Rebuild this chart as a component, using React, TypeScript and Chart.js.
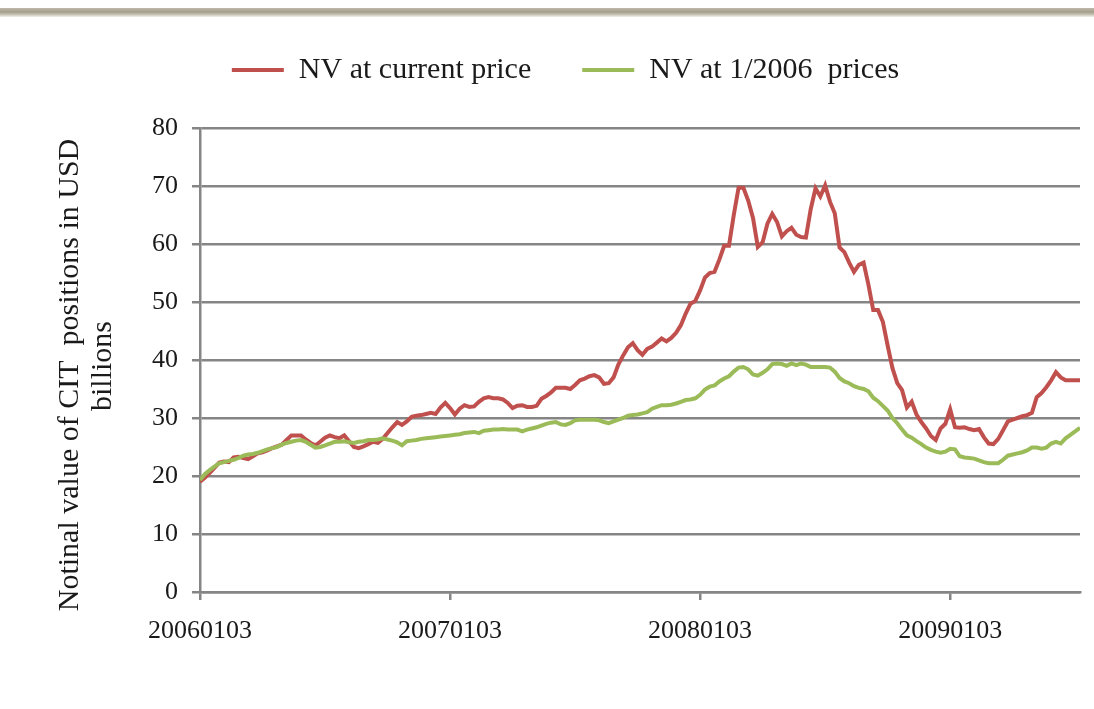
import React, { useEffect, useRef } from 'react';
import { Chart, registerables } from 'chart.js';

Chart.register(...registerables);

// ---- data ----
const seriesNames = ['NV at current price', 'NV at 1/2006  prices'];
const seriesColors = ['#c0504d', '#9bbb59'];
const xTickWeeks = [0, 52, 104, 156];
const xTickLabels = ['20060103', '20070103', '20080103', '20090103'];
const yAxisTitleLines = ['Notinal value of CIT  positions in USD', 'billions'];

// weekly observations, 2006-01-03 onwards
const nvCurrent = [
  19.0, 19.7, 20.5, 21.4, 22.3, 22.5, 22.4, 23.2, 23.3, 23.1,
  22.9, 23.4, 23.9, 24.1, 24.4, 24.8, 25.1, 25.4, 26.2, 27.0,
  27.0, 27.0, 26.3, 25.7, 25.3, 25.9, 26.6, 27.0, 26.7, 26.5,
  27.0, 26.0, 25.0, 24.8, 25.1, 25.5, 25.9, 25.7, 26.4, 27.4,
  28.4, 29.3, 28.8, 29.4, 30.2, 30.4, 30.5, 30.7, 30.9, 30.7,
  31.8, 32.6, 31.7, 30.6, 31.6, 32.2, 31.9, 32.0, 32.8, 33.4,
  33.6, 33.4, 33.4, 33.2, 32.6, 31.7, 32.1, 32.2, 31.9, 31.9,
  32.1, 33.3, 33.8, 34.4, 35.2, 35.2, 35.2, 35.0, 35.7, 36.5,
  36.8, 37.2, 37.4, 37.0, 35.9, 36.0, 37.0, 39.2, 40.8, 42.2,
  42.9, 41.7, 40.9, 41.9, 42.3, 43.0, 43.7, 43.2, 43.8, 44.7,
  46.0, 48.0, 49.7, 50.2, 52.0, 54.2, 55.0, 55.2, 57.3, 59.7,
  59.7, 65.0, 69.7, 69.7, 67.5, 64.5, 59.5, 60.3, 63.5, 65.2,
  63.8, 61.3, 62.2, 62.8, 61.6, 61.2, 61.1, 66.0, 69.6, 68.2,
  70.1, 67.3, 65.3, 59.4, 58.6, 56.8, 55.2, 56.4, 56.8, 53.0,
  48.6, 48.6, 46.6, 42.5, 38.6, 36.0, 34.8, 31.8, 32.8, 30.6,
  29.3, 28.2, 26.9, 26.2, 28.2, 29.0, 31.5, 28.4, 28.3, 28.4,
  28.1, 27.9, 28.1, 26.7, 25.6, 25.5, 26.4, 27.9, 29.4, 29.7,
  30.0, 30.3, 30.5, 30.9, 33.6, 34.3, 35.3, 36.5, 37.9, 37.0,
  36.5, 36.5, 36.5, 36.5,
];

const nv2006 = [
  19.3, 20.3, 21.0, 21.6, 22.2, 22.4, 22.6, 22.8, 23.1, 23.5,
  23.7, 23.8, 24.0, 24.3, 24.6, 24.8, 25.0, 25.4, 25.7, 25.9,
  26.1, 26.2, 25.9, 25.4, 24.9, 25.0, 25.3, 25.6, 25.9, 25.9,
  26.0, 25.8, 25.7, 25.9, 26.0, 26.2, 26.2, 26.3, 26.5, 26.3,
  26.1, 25.8, 25.3, 26.0, 26.1, 26.2, 26.4, 26.5, 26.6, 26.7,
  26.8, 26.9, 27.0, 27.1, 27.2, 27.4, 27.5, 27.6, 27.4, 27.8,
  27.9, 28.0, 28.0, 28.1, 28.0, 28.0, 28.0, 27.7, 28.0, 28.2,
  28.4, 28.7, 29.0, 29.2, 29.3, 28.9, 28.8, 29.1, 29.6, 29.7,
  29.7, 29.7, 29.7, 29.6, 29.3, 29.1, 29.4, 29.7, 30.0, 30.4,
  30.5, 30.6, 30.8, 31.0, 31.6, 31.9, 32.2, 32.2, 32.3, 32.5,
  32.8, 33.1, 33.2, 33.4, 34.0, 34.9, 35.4, 35.6, 36.3, 36.8,
  37.2, 38.0, 38.7, 38.8, 38.4, 37.5, 37.3, 37.8, 38.4, 39.3,
  39.4, 39.3, 39.0, 39.4, 39.1, 39.4, 39.2, 38.8, 38.8, 38.8,
  38.8, 38.7, 38.0, 36.9, 36.3, 36.0, 35.5, 35.2, 35.0, 34.6,
  33.5, 32.9, 32.1, 31.3, 30.0, 29.1, 28.0, 27.0, 26.6, 26.0,
  25.5, 24.9, 24.5, 24.2, 24.0, 24.2, 24.7, 24.6, 23.4, 23.2,
  23.1, 23.0, 22.7, 22.4, 22.2, 22.2, 22.2, 22.8, 23.5, 23.7,
  23.9, 24.1, 24.4, 24.9, 24.9, 24.7, 24.9, 25.6, 25.9, 25.6,
  26.5, 27.1, 27.7, 28.3,
];

const FONT = '"Liberation Serif", "Times New Roman", serif';
const TEXT = '#1a1a1a';
const GRID = '#858585';

const legendSpacer = {
  id: 'legendSpacer',
  beforeLayout(chart: any) {
    const lg = chart.legend;
    if (lg && !lg.__spaced) {
      const orig = lg.fit;
      lg.fit = function () {
        orig.call(this);
        this.height += 33;
      };
      lg.__spaced = true;
    }
  },
};

const yTitlePlugin = {
  id: 'yTitle',
  afterDraw(chart: any) {
    const { ctx } = chart;
    ctx.save();
    ctx.font = `30px ${FONT}`;
    ctx.fillStyle = TEXT;
    ctx.textAlign = 'center';
    ctx.textBaseline = 'middle';
    const pos = [
      [70, 375],
      [103, 366],
    ];
    yAxisTitleLines.forEach((line, i) => {
      ctx.save();
      ctx.translate(pos[i][0], pos[i][1]);
      ctx.rotate(-Math.PI / 2);
      ctx.fillText(line, 0, 0);
      ctx.restore();
    });
    ctx.restore();
  },
};

export default function App() {
  const ref = useRef<HTMLCanvasElement>(null);

  useEffect(() => {
    const canvas = ref.current;
    if (!canvas) return;
    const chart = new Chart(canvas, {
      type: 'line',
      data: {
        datasets: [
          {
            label: seriesNames[0],
            data: nvCurrent.map((y, i) => ({ x: i, y })),
            borderColor: seriesColors[0],
            backgroundColor: seriesColors[0],
            borderWidth: 4,
            pointRadius: 0,
            tension: 0,
            order: 1,
          },
          {
            label: seriesNames[1],
            data: nv2006.map((y, i) => ({ x: i, y })),
            borderColor: seriesColors[1],
            backgroundColor: seriesColors[1],
            borderWidth: 4,
            pointRadius: 0,
            tension: 0,
            order: 0,
          },
        ],
      },
      options: {
        responsive: false,
        animation: false,
        devicePixelRatio: 1,
        layout: { padding: { left: 51, right: 14, top: 4, bottom: 0 } },
        plugins: {
          legend: {
            position: 'top',
            labels: {
              usePointStyle: true,
              pointStyle: 'line',
              pointStyleWidth: 52,
              boxHeight: 30,
              padding: 51,
              color: TEXT,
              font: { family: FONT, size: 30 },
              sort: (a: any, b: any) => a.datasetIndex - b.datasetIndex,
            },
          },
          tooltip: { enabled: false },
        },
        scales: {
          x: {
            type: 'linear',
            min: 0,
            max: nvCurrent.length - 1,
            afterBuildTicks: (s: any) => {
              s.ticks = xTickWeeks.map((v) => ({ value: v }));
            },
            afterFit: (s: any) => {
              s.height = 117;
            },
            ticks: {
              autoSkip: false,
              maxRotation: 0,
              padding: 16,
              color: TEXT,
              font: { family: FONT, size: 26 },
              callback: (v: any) => {
                const k = xTickWeeks.indexOf(Number(v));
                return k >= 0 ? xTickLabels[k] : '';
              },
            },
            grid: {
              drawOnChartArea: false,
              drawTicks: true,
              tickLength: 8,
              color: GRID,
              lineWidth: 2.5,
            },
            border: { color: GRID, width: 2.5 },
          },
          y: {
            min: 0,
            max: 80,
            afterFit: (s: any) => {
              s.width = 149;
            },
            ticks: {
              stepSize: 10,
              padding: 14,
              color: TEXT,
              font: { family: FONT, size: 26 },
            },
            grid: { color: GRID, lineWidth: 2.5, tickLength: 8 },
            border: { color: GRID, width: 2.5 },
          },
        },
      },
      plugins: [legendSpacer, yTitlePlugin],
    } as any);
    return () => chart.destroy();
  }, []);

  return (
    <div
      style={{
        position: 'fixed',
        left: 0,
        top: 0,
        width: 1094,
        height: 709,
        background: '#ffffff',
        overflow: 'hidden',
      }}
    >
      <div
        style={{
          position: 'absolute',
          left: 0,
          top: 8,
          width: 1094,
          height: 9,
          background: 'linear-gradient(#bdb8a8, #a39e8c 45%, #c9c5b8 75%, #f3f2ee)',
        }}
      />
      <canvas
        ref={ref}
        width={1094}
        height={709}
        style={{ position: 'absolute', left: 0, top: 0, width: 1094, height: 709 }}
      />
    </div>
  );
}
